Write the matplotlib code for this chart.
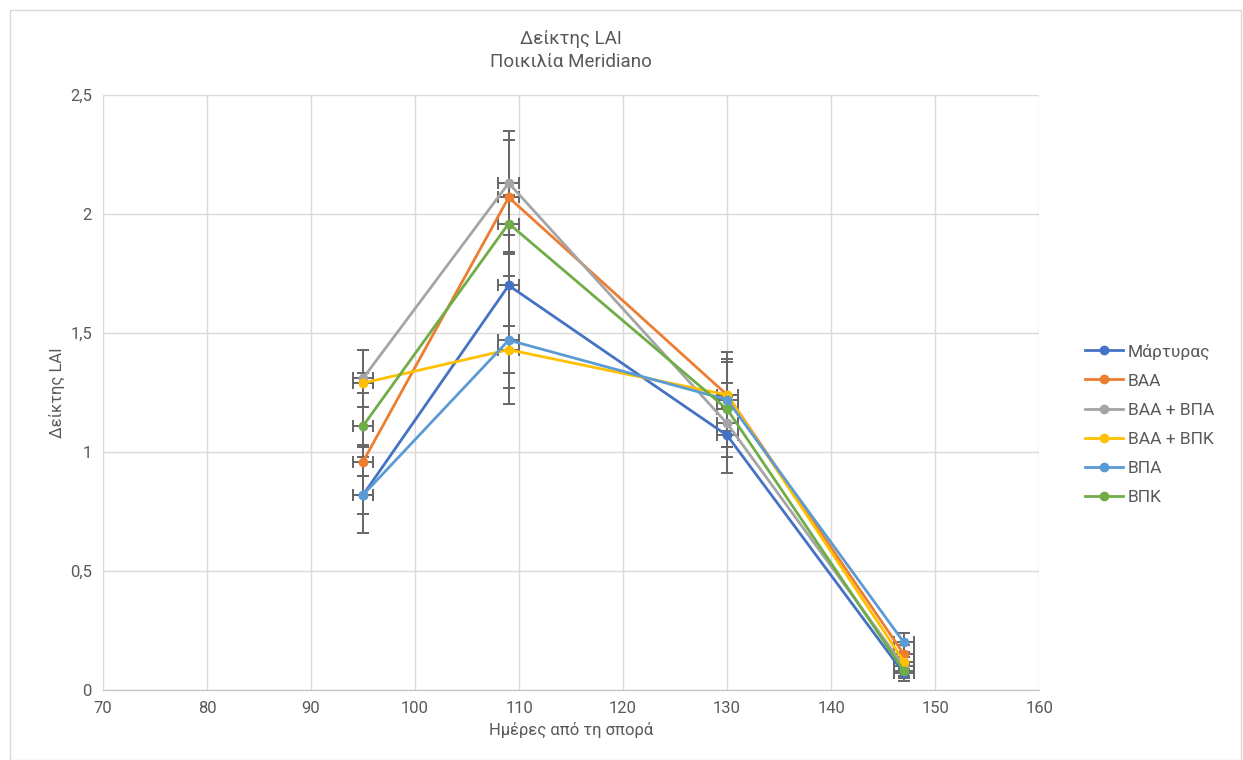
import numpy as np
import matplotlib.pyplot as plt
from matplotlib.patches import Rectangle

plt.rcParams['font.family'] = ['Roboto', 'DejaVu Sans']

# data
days = [95, 109, 130, 147]
series = ['Μάρτυρας', 'ΒΑΑ', 'ΒΑΑ + ΒΠΑ', 'ΒΑΑ + ΒΠΚ', 'ΒΠΑ', 'ΒΠΚ']
martyras = [0.82, 1.70, 1.07, 0.07]
baa = [0.96, 2.07, 1.24, 0.15]
baa_bpa = [1.31, 2.13, 1.12, 0.10]
baa_bpk = [1.29, 1.43, 1.24, 0.12]
bpa = [0.82, 1.47, 1.22, 0.20]
bpk = [1.11, 1.96, 1.18, 0.08]
martyras_err = [0.16, 0.43, 0.16, 0.03]
baa_err = [0.06, 0.24, 0.15, 0.04]
baa_bpa_err = [0.12, 0.22, 0.10, 0.04]
baa_bpk_err = [0.04, 0.10, 0.05, 0.03]
bpa_err = [0.08, 0.27, 0.20, 0.04]
bpk_err = [0.08, 0.12, 0.20, 0.03]
x_err = 1

values = [martyras, baa, baa_bpa, baa_bpk, bpa, bpk]
errors = [martyras_err, baa_err, baa_bpa_err, baa_bpk_err, bpa_err, bpk_err]
colors = ['#4472C4', '#ED7D31', '#A5A5A5', '#FFC000', '#5B9BD5', '#70AD47']

fig = plt.figure(figsize=(12.43, 7.6), dpi=100)
ax = fig.add_axes([0.0829, 0.092, 0.7531, 0.783])

# chart border
fig.patches.append(Rectangle((0.008, 0.0), 0.99, 0.987, transform=fig.transFigure,
                             fill=False, edgecolor='#D9D9D9', linewidth=1))

for vals, errs, c, name in zip(values, errors, colors, series):
    ax.errorbar(days, vals, yerr=errs, xerr=x_err, fmt='none', ecolor='#666666',
                elinewidth=1.4, capsize=4, capthick=1.4, zorder=2)
    ax.plot(days, vals, color=c, linewidth=2, marker='o', markersize=6,
            label=name, zorder=3)

ax.set_xlim(70, 160)
ax.set_ylim(0, 2.5)
ax.set_xticks(np.arange(70, 161, 10))
yt = [0, 0.5, 1, 1.5, 2, 2.5]
ax.set_yticks(yt)
ax.set_yticklabels([('%g' % v).replace('.', ',') for v in yt])
ax.grid(True, color='#D9D9D9', linewidth=1, zorder=0)
ax.set_axisbelow(True)
for s in ['top', 'right', 'left']:
    ax.spines[s].set_visible(False)
ax.spines['bottom'].set_color('#BFBFBF')
ax.tick_params(length=0, labelsize=12, colors='#595959', pad=8)

ax.set_xlabel('Ημέρες από τη σπορά', fontsize=12, color='#595959')
ax.set_ylabel('Δείκτης LAI', fontsize=12, color='#595959')
fig.text(0.4595, 0.933, 'Δείκτης LAI\nΠοικιλία Meridiano', ha='center', va='center',
         fontsize=13.5, color='#595959', linespacing=1.35)

ax.legend(loc='center left', bbox_to_anchor=(0.86, 0.442), bbox_transform=fig.transFigure,
          frameon=False, fontsize=12.5, labelcolor='#595959', handlelength=2.2,
          handletextpad=0.3, labelspacing=0.8)

fig.savefig('out.png', dpi=100)
